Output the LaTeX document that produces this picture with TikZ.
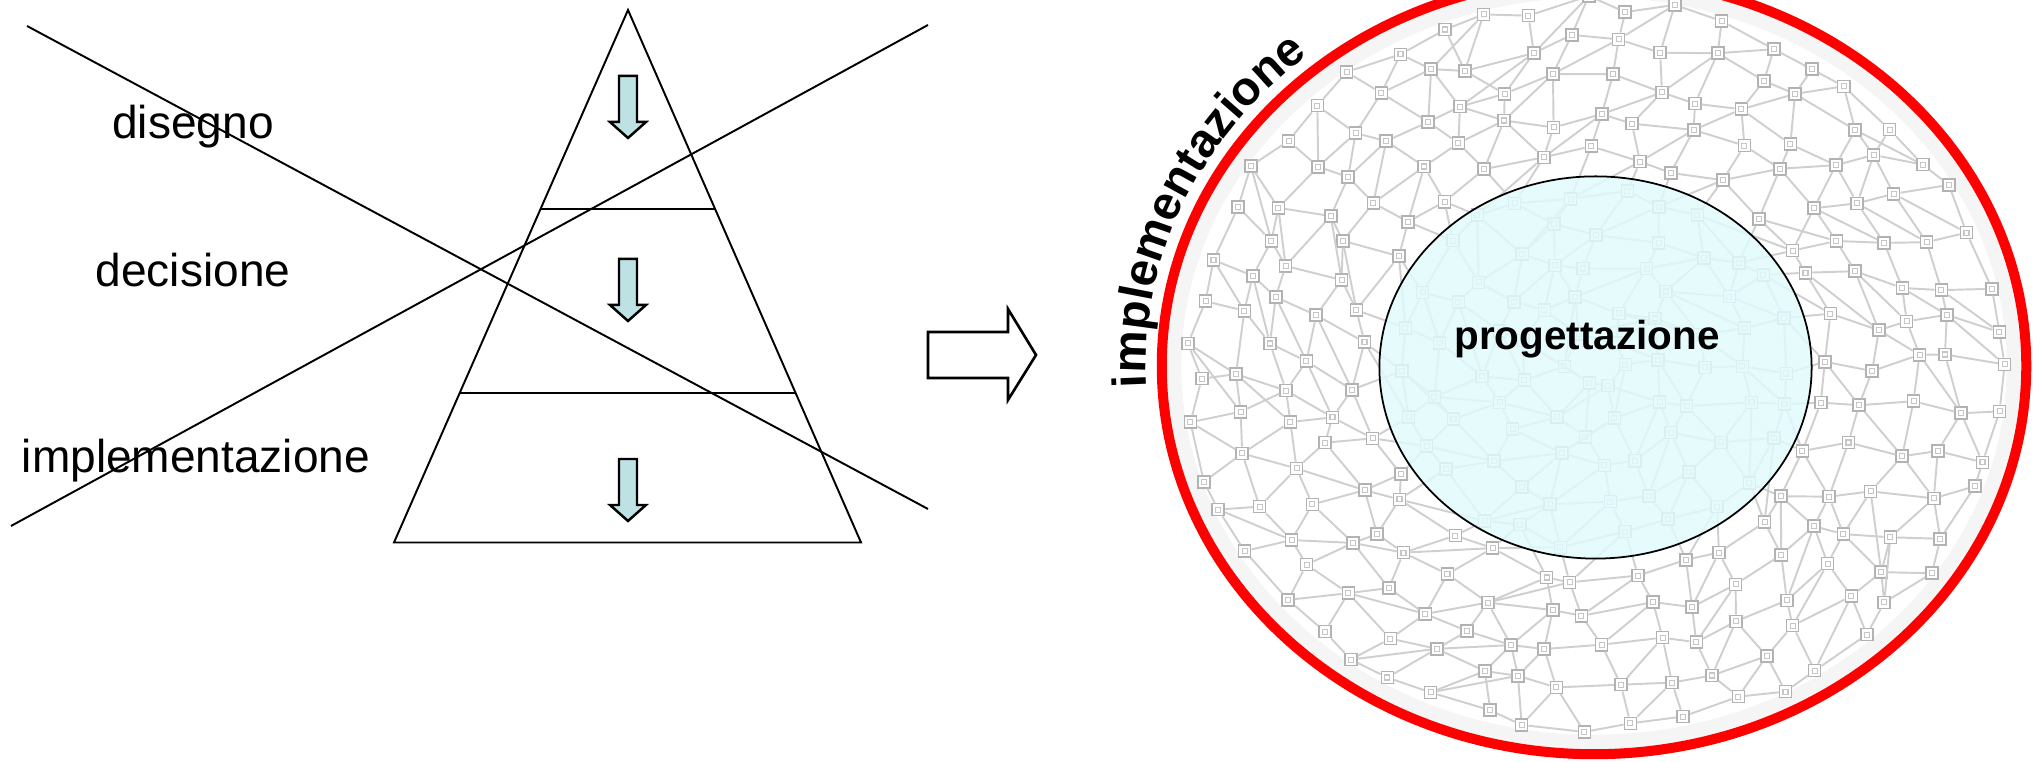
\documentclass[tikz,border=0pt]{standalone}
\usepackage{fontspec}
\setmainfont{Liberation Sans}
\usetikzlibrary{calc, decorations.text}
\definecolor{azzurro}{RGB}{190,226,228}
\definecolor{ciano}{RGB}{224,250,252}
\tikzset{
  lin/.style = {draw=black, line width=0.55pt},
  etic/.style = {font=\fontsize{13.1pt}{15pt}\selectfont, anchor=base,
    inner sep=0pt},
  freg/.style = {draw=black, fill=azzurro, line width=0.7pt},
  fvuota/.style = {draw=black, fill=white, line width=0.75pt},
  rete/.style = {draw=gray!38, line width=0.55pt},
  nodo/.style = {rectangle, draw=gray!60, fill=white, minimum size=0.12cm,
    inner sep=0pt, line width=0.45pt,
    path picture={\draw [gray!45, line width=0.3pt]
      (path picture bounding box.center) ++(-0.025cm,-0.025cm)
      rectangle ++(0.05cm,0.05cm);}},
  banda/.style = {draw=gray!8, line width=0.15cm},
  ovrosso/.style = {draw=red, line width=0.1cm},
  ovint/.style = {draw=black, fill=ciano, fill opacity=0.85,
    line width=0.5pt},
  tit/.style = {font=\bfseries\fontsize{11.5pt}{13pt}\selectfont,
    anchor=base, inner sep=0pt}
}
\newcommand{\fgiu}[2]{%
  \draw [freg] (#1-9,#2) -- (#1+9,#2) -- (#1+9,#2-46) -- (#1+18,#2-46)
    -- (#1,#2-62) -- (#1-18,#2-46) -- (#1-9,#2-46) -- cycle;}

\begin{document}
\begin{tikzpicture}[x=0.01cm, y=0.01cm]
  \clip (0,0) rectangle (2040,762);
  \coordinate (apice) at (628,752);
  \coordinate (bsx) at (394,219.5);
  \coordinate (bdx) at (861,219.5);
  \draw [lin] (apice) -- (bdx) -- (bsx) -- cycle;
  \draw [lin] ($(apice)!0.3737!(bsx)$) -- ($(apice)!0.3737!(bdx)$);
  \draw [lin] ($(apice)!0.7193!(bsx)$) -- ($(apice)!0.7193!(bdx)$);
  \fgiu{628}{686}
  \fgiu{628}{503}
  \fgiu{628}{303}
  \node [etic] (dis) at (193,623) {disegno};
  \node [etic] (dec) at (193,475) {decisione};
  \node [etic] (imp) at (196,289) {implementazione};
  \coordinate (a1) at (27,736);
  \coordinate (a2) at (928,253);
  \coordinate (b1) at (11,236);
  \coordinate (b2) at (928,737);
  \draw [lin] (a1) -- (a2);
  \draw [lin] (b1) -- (b2);
  \draw [fvuota] (928,430) -- (1008,430) -- (1008,453) -- (1036,407)
    -- (1008,362) -- (1008,384) -- (928,384) -- cycle;

  \coordinate (ctr) at (1594,396);
  \draw [banda] (ctr) ellipse [x radius=4.20cm, y radius=3.76cm];
  \pgfmathsetseed{12}
  \foreach \k in {1,...,10}{
    \pgfmathtruncatemacro{\n}{5*\k+1}
    \foreach \j in {1,...,\n}{
      \pgfmathsetmacro{\ang}{360/\n*\j + rand*100/\n}
      \pgfmathsetmacro{\fr}{(\k-0.3)/10 + rand*0.025}
      \node [nodo] (q\k-\j) at ({1594+\fr*415*cos(\ang)}, {396+\fr*372*sin(\ang)}) {};
    }
  }
  \foreach \k in {1,...,10}{
    \pgfmathtruncatemacro{\n}{5*\k+1}
    \pgfmathtruncatemacro{\km}{\k-1}
    \pgfmathtruncatemacro{\nm}{5*\k-4}
    \foreach \j in {1,...,\n}{
      \pgfmathtruncatemacro{\js}{mod(\j,\n)+1}
      \draw [rete] (q\k-\j) -- (q\k-\js);
      \ifnum\k>1
        \pgfmathtruncatemacro{\ji}{round(\j*\nm/\n)}
        \ifnum\ji=0 \edef\ji{\nm}\fi
        \draw [rete] (q\k-\j) -- (q\km-\ji);
        \ifodd\j
          \pgfmathtruncatemacro{\jd}{mod(\ji,\nm)+1}
          \draw [rete] (q\k-\j) -- (q\km-\jd);
        \fi
      \fi
    }
  }

  \draw [ovrosso] (ctr) ellipse [x radius=4.32cm, y radius=3.88cm];
  \draw [ovint] (1595.5,394.5) ellipse [x radius=2.16cm, y radius=1.91cm];
  \node [tit] (prog) at (1587,412) {progettazione};
  \path [decorate, decoration={text along path, text align=left,
      text={|\bfseries\fontsize{13.5pt}{16pt}\selectfont|implementazione}}]
    (ctr) ++(183:4.48cm and 4.03cm)
    arc [start angle=183, end angle=100, x radius=4.48cm, y radius=4.03cm];
\end{tikzpicture}
\end{document}
